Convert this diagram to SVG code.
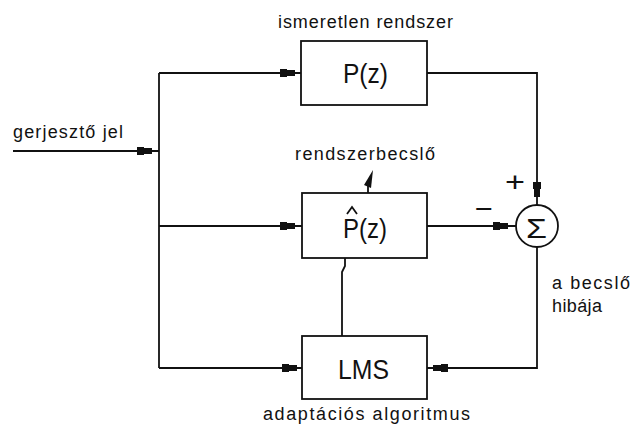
<svg xmlns="http://www.w3.org/2000/svg" xmlns:xlink="http://www.w3.org/1999/xlink" width="634" height="427" viewBox="0 0 634 427">
<style>
.ln{fill:none;stroke:#111;stroke-width:1.8}
.box{fill:#fff;stroke:#111;stroke-width:1.8}
.lbl{font-family:"Liberation Sans",Arial,sans-serif;font-size:18px;fill:#111}
.big{font-family:"Liberation Sans",Arial,sans-serif;font-size:27px;fill:#111}
</style>
<defs>
<path id="ah" d="M-15,-4 H-8 V-3 H0 V3 H-8 V4 H-15 Z" fill="#111"/>
</defs>
<rect width="634" height="427" fill="#fff"/>
<g id="connectors">
<path class="ln" d="M13,151 H159"/>
<path class="ln" d="M159,73 V368"/>
<path class="ln" d="M159,73 H301"/>
<path class="ln" d="M159,226 H302"/>
<path class="ln" d="M159,368 H302"/>
<path class="ln" d="M427,73 H537 V205"/>
<path class="ln" d="M427,226 H516"/>
<path class="ln" d="M537,247 V368 H427"/>
<path class="ln" d="M342,336 V272 L345,266 V258"/>
<path class="ln" d="M368,193 V186"/>
<path d="M364,185 L373,170 L371,188 Z" fill="#111"/>
<use xlink:href="#ah" transform="translate(152,151)"/>
<use xlink:href="#ah" transform="translate(295,73)"/>
<use xlink:href="#ah" transform="translate(295,226)"/>
<use xlink:href="#ah" transform="translate(297,368)"/>
<use xlink:href="#ah" transform="translate(508,226)"/>
<use xlink:href="#ah" transform="translate(537,197) rotate(90)"/>
<use xlink:href="#ah" transform="translate(433,368) rotate(180)"/>
</g>
<g id="input-label">
<text class="lbl" x="13" y="138" textLength="110" lengthAdjust="spacing">gerjesztő jel</text>
</g>
<g id="P">
<rect class="box" x="301" y="41" width="126" height="64"/>
<text class="big" x="343" y="83" textLength="45" lengthAdjust="spacingAndGlyphs">P(z)</text>
<text class="lbl" x="278" y="28" textLength="175" lengthAdjust="spacing">ismeretlen rendszer</text>
</g>
<g id="Phat">
<rect class="box" x="302" y="193" width="125" height="65"/>
<text class="big" x="343" y="238" textLength="44" lengthAdjust="spacingAndGlyphs">P(z)</text>
<path class="ln" d="M347,214 L352,207 L357,214" stroke-width="1.5"/>
<text class="lbl" x="295" y="160" textLength="140" lengthAdjust="spacing">rendszerbecslő</text>
</g>
<g id="sum">
<circle class="box" cx="537" cy="226" r="21"/>
<text class="big" x="526" y="238" font-size="30" textLength="21" lengthAdjust="spacingAndGlyphs">Σ</text>
<text class="big" x="505" y="191" font-size="32" textLength="20" lengthAdjust="spacingAndGlyphs">+</text>
<text class="big" x="475" y="218" font-size="28" textLength="18" lengthAdjust="spacingAndGlyphs">−</text>
<text class="lbl" x="552" y="289" textLength="78" lengthAdjust="spacing">a becslő</text>
<text class="lbl" x="552" y="312" textLength="50" lengthAdjust="spacing">hibája</text>
</g>
<g id="LMS">
<rect class="box" x="302" y="336" width="125" height="63"/>
<text class="big" x="338" y="379" textLength="51" lengthAdjust="spacingAndGlyphs">LMS</text>
<text class="lbl" x="263" y="420" textLength="207" lengthAdjust="spacing">adaptációs algoritmus</text>
</g>
</svg>
